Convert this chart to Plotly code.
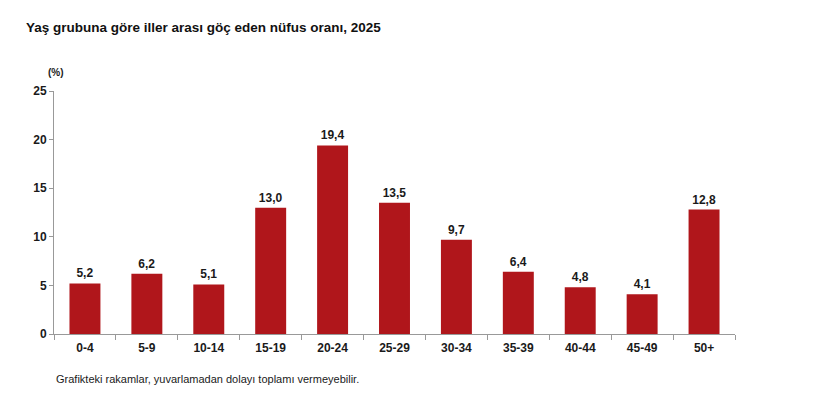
import plotly.graph_objects as go

categories = ["0-4", "5-9", "10-14", "15-19", "20-24", "25-29", "30-34", "35-39", "40-44", "45-49", "50+"]
values = [5.2, 6.2, 5.1, 13.0, 19.4, 13.5, 9.7, 6.4, 4.8, 4.1, 12.8]
labels = [f"{v:.1f}".replace(".", ",") for v in values]
y_ticks = [0, 5, 10, 15, 20, 25]

font_family = "Liberation Sans, Arial, sans-serif"

fig = go.Figure(go.Bar(
    x=categories, y=values,
    marker=dict(color="#B0161B", line=dict(width=0)),
    text=labels, textposition="outside",
    textfont=dict(family=font_family, size=12, color="#1a1a1a", weight="bold"),
    cliponaxis=False,
))

fig.update_layout(
    width=819, height=409,
    margin=dict(l=54, r=84, t=91, b=75),
    paper_bgcolor="white", plot_bgcolor="white",
    bargap=0.5,
    showlegend=False,
    font=dict(family=font_family, color="#1a1a1a"),
    xaxis=dict(
        type="category", tickson="boundaries", ticks="outside", ticklen=5,
        tickcolor="#999999", showline=True, linecolor="#999999", linewidth=1,
        showgrid=False, ticklabelstandoff=3,
        tickfont=dict(family=font_family, size=12, color="#1a1a1a", weight="bold"),
    ),
    yaxis=dict(
        range=[0, 25], tickvals=y_ticks, ticks="outside", ticklen=4,
        tickcolor="#999999", showline=True, linecolor="#999999", linewidth=1,
        showgrid=False, zeroline=False,
        tickfont=dict(family=font_family, size=12, color="#1a1a1a", weight="bold"),
    ),
    annotations=[
        dict(text="<b>Yaş grubuna göre iller arası göç eden nüfus oranı, 2025</b>",
             xref="paper", yref="paper", x=-54/681+24/681, y=1 + (91-28)/243,
             xanchor="left", yanchor="middle", showarrow=False,
             font=dict(family=font_family, size=13.5, color="#111111")),
        dict(text="<b>(%)</b>",
             xref="paper", yref="paper", x=-54/681+46/681, y=1 + (91-72)/243,
             xanchor="left", yanchor="middle", showarrow=False,
             font=dict(family=font_family, size=10, color="#1a1a1a")),
        dict(text="Grafikteki rakamlar, yuvarlamadan dolayı toplamı vermeyebilir.",
             xref="paper", yref="paper", x=0, y=-(379-334)/243,
             xanchor="left", yanchor="middle", showarrow=False,
             font=dict(family=font_family, size=11, color="#1a1a1a")),
    ],
)

fig.write_html("out.html")
